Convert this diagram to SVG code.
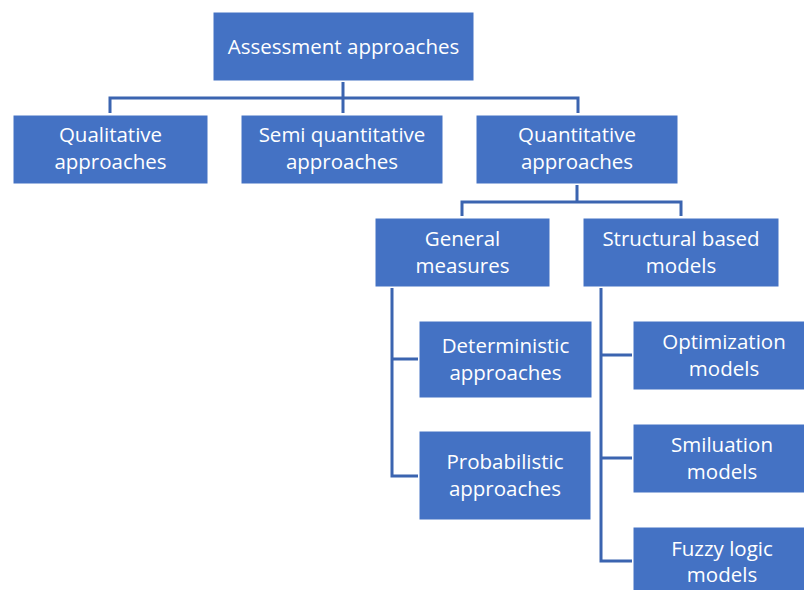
<svg xmlns="http://www.w3.org/2000/svg" width="804" height="590" viewBox="0 0 804 590">
  <style>
    .box { fill: #4472C4; stroke: #FFFFFF; stroke-width: 1; }
    .lbl { fill: #FFFFFF; font-family: "Open Sans", "Noto Sans", sans-serif; font-size: 20.5px; text-anchor: middle; }
    .link { fill: none; stroke: #3B64B0; stroke-width: 3; }
  </style>
  <rect width="804" height="590" fill="#FFFFFF"/>

  <g id="connectors">
    <!-- root to first level -->
    <path class="link" d="M343 82 V98 M110 113 V98 H578 V113 M343 98 V113"/>
    <!-- quantitative to second level -->
    <path class="link" d="M577 185 V202 M462 216 V202 H681 V216"/>
    <!-- general measures branch -->
    <path class="link" d="M392 288 V476 H418 M392 359 H418"/>
    <!-- structural models branch -->
    <path class="link" d="M601 288 V561 H632 M601 355 H632 M601 458 H632"/>
  </g>

  <g id="assessment">
    <rect class="box" x="213" y="12" width="261" height="69"/>
    <text class="lbl" x="343.5" y="54">Assessment approaches</text>
  </g>

  <g id="qualitative">
    <rect class="box" x="13" y="115" width="195" height="69"/>
    <text class="lbl" x="110.5" y="142">Qualitative</text>
    <text class="lbl" x="110.5" y="169">approaches</text>
  </g>

  <g id="semi-quantitative">
    <rect class="box" x="241" y="115" width="202" height="69"/>
    <text class="lbl" x="342" y="142">Semi quantitative</text>
    <text class="lbl" x="342" y="169">approaches</text>
  </g>

  <g id="quantitative">
    <rect class="box" x="476" y="115" width="202" height="69"/>
    <text class="lbl" x="577" y="142">Quantitative</text>
    <text class="lbl" x="577" y="169">approaches</text>
  </g>

  <g id="general-measures">
    <rect class="box" x="375" y="218" width="175" height="69"/>
    <text class="lbl" x="462.5" y="246">General</text>
    <text class="lbl" x="462.5" y="273">measures</text>
  </g>

  <g id="structural-models">
    <rect class="box" x="583" y="218" width="196" height="69"/>
    <text class="lbl" x="681" y="246">Structural based</text>
    <text class="lbl" x="681" y="273">models</text>
  </g>

  <g id="deterministic">
    <rect class="box" x="419" y="321" width="173" height="77"/>
    <text class="lbl" x="505.5" y="353">Deterministic</text>
    <text class="lbl" x="505.5" y="380">approaches</text>
  </g>

  <g id="probabilistic">
    <rect class="box" x="419" y="431" width="172" height="89"/>
    <text class="lbl" x="505" y="469">Probabilistic</text>
    <text class="lbl" x="505" y="496">approaches</text>
  </g>

  <g id="optimization">
    <rect class="box" x="633" y="321" width="172" height="69"/>
    <text class="lbl" x="724" y="349">Optimization</text>
    <text class="lbl" x="724" y="376">models</text>
  </g>

  <g id="simulation">
    <rect class="box" x="633" y="424" width="172" height="69"/>
    <text class="lbl" x="722" y="452">Smiluation</text>
    <text class="lbl" x="722" y="479">models</text>
  </g>

  <g id="fuzzy-logic">
    <rect class="box" x="633" y="527" width="172" height="70"/>
    <text class="lbl" x="722" y="556">Fuzzy logic</text>
    <text class="lbl" x="722" y="582">models</text>
  </g>
</svg>
